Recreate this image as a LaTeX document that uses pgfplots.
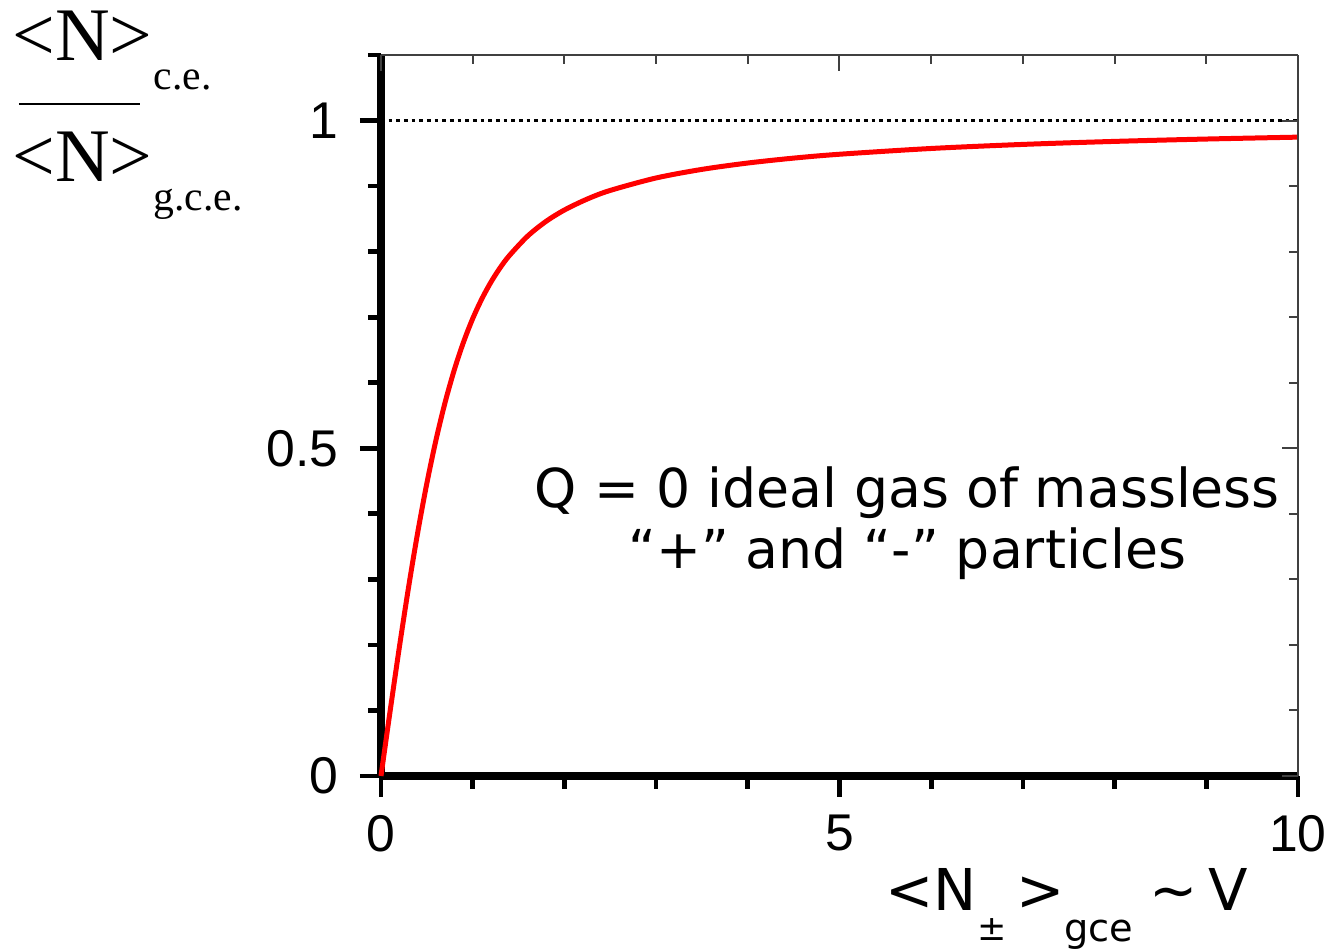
\documentclass[border=0pt]{standalone}
\usepackage{fontspec}
\usepackage{pgfplots}
\pgfplotsset{compat=1.18}
\setmainfont{Liberation Sans}
\newfontfamily\serif{Liberation Serif}
\newfontfamily\dejavu{DejaVu Sans}
\definecolor{frame}{HTML}{404040}

% ratio <N>_ce / <N>_gce vs <N+->_gce
\pgfplotstableread{
x     r
0     0
0.05  0.0499
0.1   0.0995
0.2   0.1961
0.3   0.2873
0.4   0.3711
0.5   0.4464
0.6   0.5128
0.7   0.5704
0.8   0.6199
0.9   0.6620
1.0   0.6978
1.1   0.7280
1.2   0.7537
1.3   0.7755
1.4   0.7940
1.6   0.8238
1.8   0.8462
2.0   0.8635
2.25  0.8803
2.5   0.8934
3.0   0.9124
3.5   0.9255
4.0   0.9352
4.5   0.9427
5.0   0.9486
6.0   0.9574
7.0   0.9636
8.0   0.9682
9.0   0.9718
10.0  0.9747
}\ratio

\begin{document}
\begin{tikzpicture}
\begin{axis}[
    scale only axis,
    width=275.1pt, height=216.3pt,
    xmin=0, xmax=10, ymin=0, ymax=1.1,
    axis x line*=bottom, axis y line*=left,
    axis line style={line width=2.6pt},
    xtick={0,5,10}, xticklabels={0,5,10},
    ytick={0,0.5,1}, yticklabels={0,0.5,1},
    minor xtick={1,2,3,4,6,7,8,9},
    minor ytick={0.1,0.2,0.3,0.4,0.6,0.7,0.8,0.9,1.1},
    tick align=outside,
    major tick length=6.3pt, minor tick length=3.9pt,
    every tick/.style={black, line width=1.4pt},
    tick label style={font=\fontsize{15.5}{18}\selectfont},
    xticklabel style={yshift=-2pt},
    yticklabel style={xshift=-3pt},
    clip=false,
]
\addplot[black, line width=0.7pt, dash pattern=on 1.1pt off 1.2pt] coordinates {(0,1) (10,1)};
\addplot[red, line width=1.5pt, smooth] table[x=x, y=r] {\ratio};

\node[font=\dejavu\fontsize{16.1}{18.3}\selectfont, align=center]
  at (axis cs:5.74,0.385) {Q = 0 ideal gas of massless\\“+” and “-” particles};

% y label
\node[font=\serif\fontsize{22.7}{24}\selectfont, anchor=base west, inner sep=0pt]
  at (rel axis cs:-0.4024,0.993) {<N>};
\node[font=\serif\fontsize{12.5}{14}\selectfont, anchor=base west, inner sep=0pt]
  at (rel axis cs:-0.2486,0.9515) {c.e.};
\draw[line width=0.6pt] (rel axis cs:-0.3948,0.932) -- (rel axis cs:-0.2628,0.932);
\node[font=\serif\fontsize{22.7}{24}\selectfont, anchor=base west, inner sep=0pt]
  at (rel axis cs:-0.4024,0.8239) {<N>};
\node[font=\serif\fontsize{12.5}{14}\selectfont, anchor=base west, inner sep=0pt]
  at (rel axis cs:-0.2486,0.785) {g.c.e.};

% x label
\node[font=\dejavu\fontsize{17.3}{20}\selectfont, anchor=base west, inner sep=0pt]
  at (rel axis cs:0.5496,-0.1859)
  {<N\raisebox{-9pt}{\fontsize{10.5}{12}\selectfont ±}\,>\raisebox{-9.5pt}{\fontsize{11.5}{12}\selectfont gce}\hspace{5pt}\textasciitilde\hspace{3pt}V};

\coordinate (bbsw) at (rel axis cs:-0.4155,-0.2399);
\coordinate (bbne) at (rel axis cs:1.0393,1.0763);
\end{axis}
\begin{axis}[
    scale only axis,
    width=275.1pt, height=216.3pt,
    xmin=0, xmax=10, ymin=0, ymax=1.1,
    axis x line*=top, axis y line*=right,
    axis line style={frame, line width=0.6pt},
    xtick={0,5,10}, xticklabels={},
    ytick={0,0.5,1}, yticklabels={},
    minor xtick={1,2,3,4,6,7,8,9},
    minor ytick={0.1,0.2,0.3,0.4,0.6,0.7,0.8,0.9},
    tick align=inside,
    major tick length=4.8pt, minor tick length=2.6pt,
    every tick/.style={frame, line width=0.6pt},
]
\end{axis}
\pgfresetboundingbox
\path[use as bounding box] (bbsw) rectangle (bbne);
\end{tikzpicture}
\end{document}
